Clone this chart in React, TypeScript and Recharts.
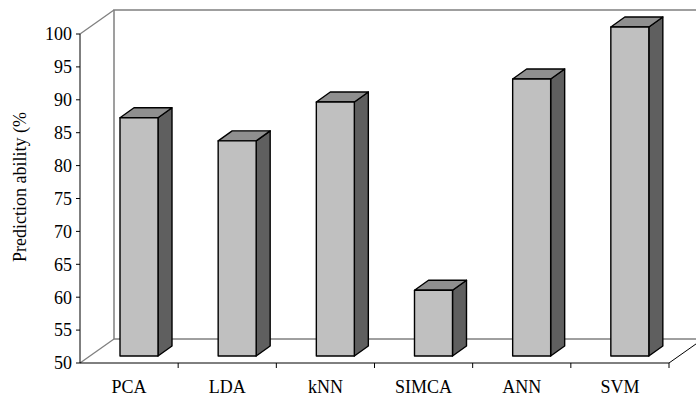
import React from "react";
import { BarChart, Bar, XAxis, YAxis, usePlotArea } from "recharts";

// values
const methods = ["PCA", "LDA", "kNN", "SIMCA", "ANN", "SVM"];
const ability = [86.2, 82.7, 88.6, 60.0, 92.1, 100];
const yTicks = [50, 55, 60, 65, 70, 75, 80, 85, 90, 95, 100];

const data = methods.map((m, i) => ({ method: m, ability: ability[i] }));

const FONT = "'Liberation Serif', 'Times New Roman', serif";

// depth of the 3D box (whole floor) and of each bar
const DEPTH = { dx: 34, dy: -24 };
const BAR_SHIFT = { dx: 10, dy: -7 };
const BAR_DEPTH = { dx: 14, dy: -10 };

// Excel-style back wall + floor, drawn from the plot area
function Walls() {
  const area = usePlotArea();
  if (!area) return null;
  const { x, y, width, height } = area;
  const r = x + width;
  const b = y + height;
  const grey = "#808080";
  const band = width / methods.length;
  return (
    <g>
      <rect x={x + DEPTH.dx} y={y + DEPTH.dy} width={width} height={height} fill="#fff" stroke={grey} strokeWidth={1.5} />
      <line x1={x} y1={y} x2={x + DEPTH.dx} y2={y + DEPTH.dy} stroke={grey} strokeWidth={1.3} />
      <line x1={x} y1={b} x2={x + DEPTH.dx} y2={b + DEPTH.dy} stroke={grey} strokeWidth={1.3} />
      <line x1={r} y1={b} x2={r + DEPTH.dx} y2={b + DEPTH.dy} stroke="#000" strokeWidth={1} />
      {methods.map((_, i) => (
        <line key={i} x1={x + (i + 1) * band} y1={b} x2={x + (i + 1) * band} y2={b + 5} stroke="#000" strokeWidth={1} />
      ))}
    </g>
  );
}

function Box3D(props: any) {
  const { x, y, width, height } = props;
  if (width == null || height == null) return null;
  const fx = x + BAR_SHIFT.dx;
  const fy = y + BAR_SHIFT.dy;
  const { dx, dy } = BAR_DEPTH;
  const top = `${fx},${fy} ${fx + width},${fy} ${fx + width + dx},${fy + dy} ${fx + dx},${fy + dy}`;
  const side = `${fx + width},${fy} ${fx + width + dx},${fy + dy} ${fx + width + dx},${fy + dy + height} ${fx + width},${fy + height}`;
  return (
    <g stroke="#000" strokeWidth={1.4} strokeLinejoin="round">
      <polygon points={side} fill="#5f5f5f" />
      <polygon points={top} fill="#8f8f8f" />
      <rect x={fx} y={fy} width={width} height={height} fill="#c0c0c0" />
    </g>
  );
}

function YLabel() {
  return (
    <text
      x={26}
      y={187}
      transform="rotate(-90, 26, 187)"
      textAnchor="middle"
      fontFamily={FONT}
      fontSize={18}
      fill="#000"
    >
      Prediction ability (%
    </text>
  );
}

export default function App() {
  return (
    <div style={{ position: "absolute", left: 0, top: 0, background: "#fff" }}>
      <BarChart
        width={696}
        height={397}
        data={data}
        margin={{ top: 34, right: 27, bottom: 0, left: 0 }}
        barSize={38}
      >
        <Walls />
        <XAxis
          dataKey="method"
          height={34}
          tickLine={false}
          axisLine={{ stroke: "#000", strokeWidth: 1 }}
          tickMargin={11}
          tick={{ fontFamily: FONT, fontSize: 18, fill: "#000" }}
          interval={0}
        />
        <YAxis
          width={80}
          domain={[50, 100]}
          ticks={yTicks}
          interval={0}
          tickSize={4}
          tickMargin={4}
          axisLine={{ stroke: "#000", strokeWidth: 1 }}
          tickLine={{ stroke: "#000" }}
          tick={{ fontFamily: FONT, fontSize: 18, fill: "#000" }}
        />
        <Bar dataKey="ability" shape={<Box3D />} isAnimationActive={false} />
        <YLabel />
      </BarChart>
    </div>
  );
}
